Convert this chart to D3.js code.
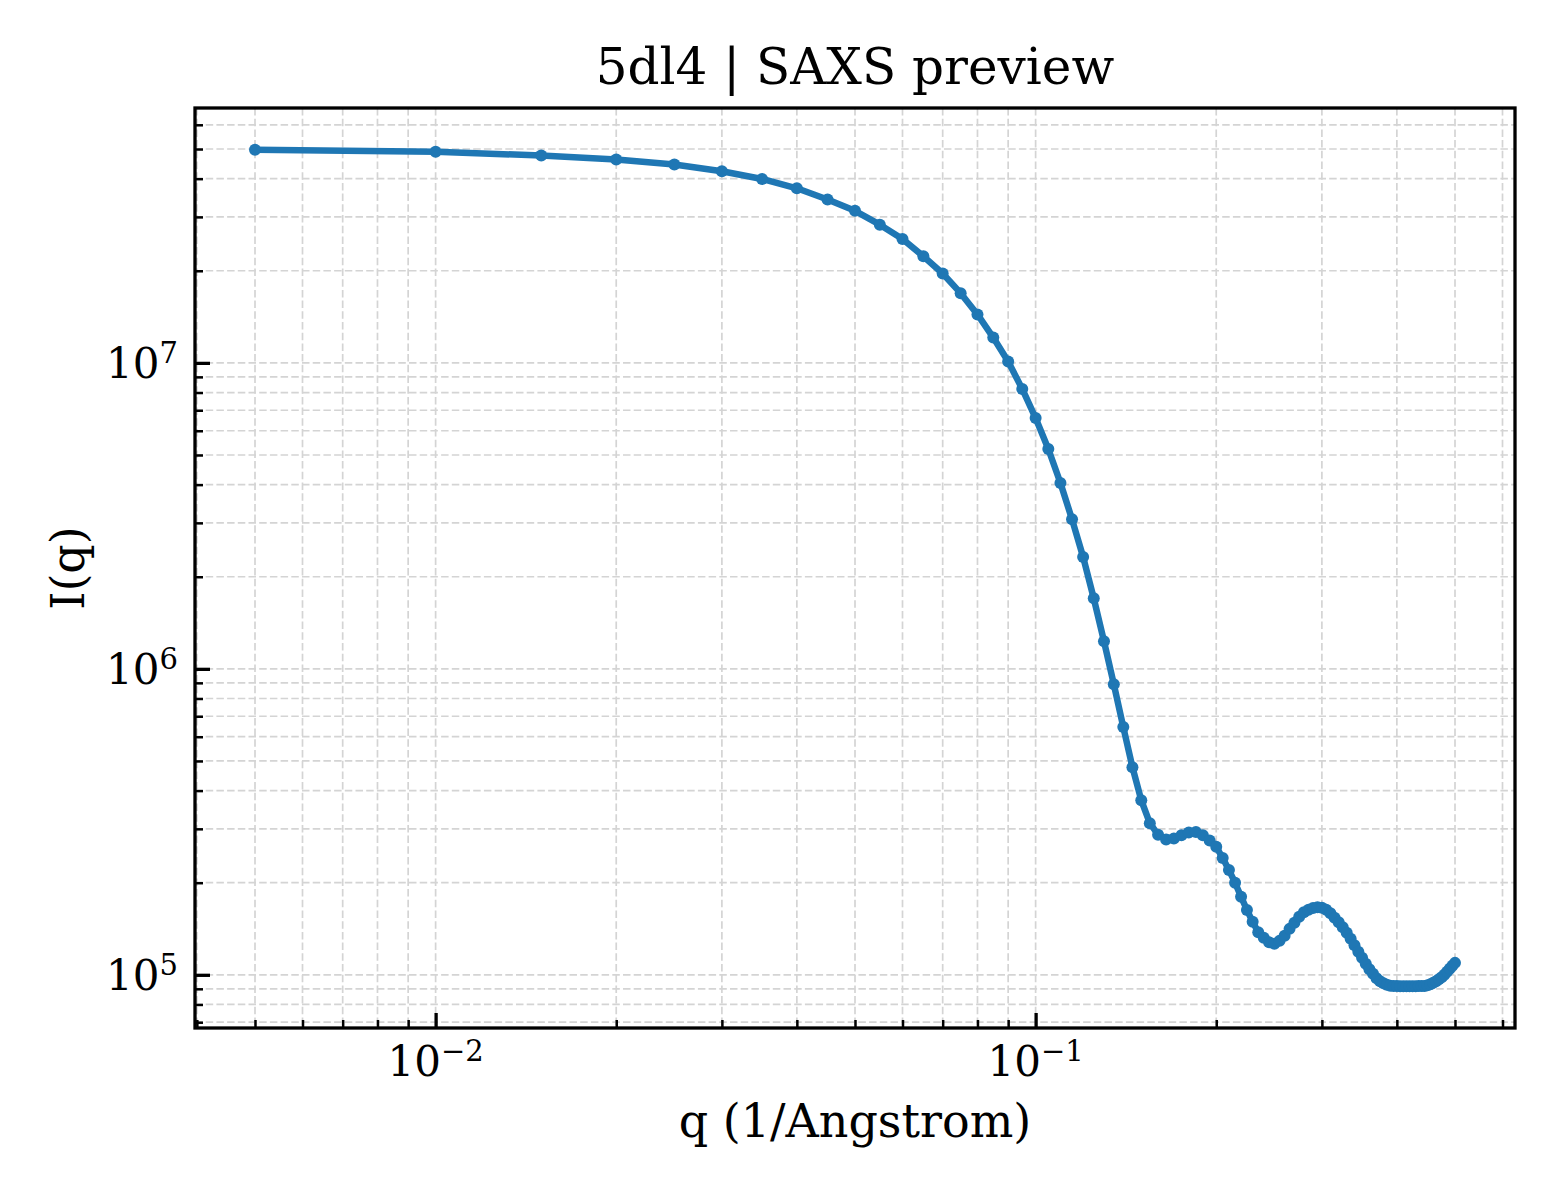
<!DOCTYPE html>
<html>
<head>
<meta charset="utf-8">
<script src="https://cdn.jsdelivr.net/npm/d3@7"></script>
<style>
  body { margin: 0; background: #fff; }
  text { font-family: "DejaVu Serif", serif; fill: #000; }
</style>
</head>
<body>
<svg id="chart" width="1560" height="1200"></svg>
<script>
// q (1/Angstrom) sample positions
const qValues = [
  0.005, 0.010, 0.015, 0.020, 0.025, 0.030, 0.035, 0.040, 0.045, 0.050,
  0.055, 0.060, 0.065, 0.070, 0.075, 0.080, 0.085, 0.090, 0.095, 0.100,
  0.105, 0.110, 0.115, 0.120, 0.125, 0.130, 0.135, 0.140, 0.145, 0.150,
  0.155, 0.160, 0.165, 0.170, 0.175, 0.180, 0.185, 0.190, 0.195, 0.200,
  0.205, 0.210, 0.215, 0.220, 0.225, 0.230, 0.235, 0.240, 0.245, 0.250,
  0.255, 0.260, 0.265, 0.270, 0.275, 0.280, 0.285, 0.290, 0.295, 0.300,
  0.305, 0.310, 0.315, 0.320, 0.325, 0.330, 0.335, 0.340, 0.345, 0.350,
  0.355, 0.360, 0.365, 0.370, 0.375, 0.380, 0.385, 0.390, 0.395, 0.400,
  0.405, 0.410, 0.415, 0.420, 0.425, 0.430, 0.435, 0.440, 0.445, 0.450,
  0.455, 0.460, 0.465, 0.470, 0.475, 0.480, 0.485, 0.490, 0.495, 0.500
];

// I(q)
const intensity = [
  4.97e7, 4.90e7, 4.76e7, 4.62e7, 4.45e7, 4.23e7, 3.99e7, 3.72e7, 3.42e7, 3.14e7,
  2.83e7, 2.54e7, 2.23e7, 1.96e7, 1.69e7, 1.44e7, 1.21e7, 1.01e7, 8.22e6, 6.60e6,
  5.23e6, 4.05e6, 3.08e6, 2.32e6, 1.70e6, 1.23e6, 8.91e5, 6.45e5, 4.77e5, 3.72e5,
  3.13e5, 2.87e5, 2.77e5, 2.79e5, 2.86e5, 2.92e5, 2.93e5, 2.86e5, 2.75e5, 2.62e5,
  2.41e5, 2.20e5, 2.00e5, 1.80e5, 1.63e5, 1.49e5, 1.377e5, 1.321e5, 1.277e5, 1.263e5,
  1.291e5, 1.341e5, 1.413e5, 1.479e5, 1.547e5, 1.600e5, 1.631e5, 1.652e5, 1.662e5, 1.656e5,
  1.631e5, 1.589e5, 1.536e5, 1.484e5, 1.430e5, 1.372e5, 1.311e5, 1.249e5, 1.189e5, 1.137e5,
  1.086e5, 1.042e5, 1.008e5, 9.74e4, 9.52e4, 9.38e4, 9.28e4, 9.21e4, 9.20e4, 9.19e4,
  9.18e4, 9.18e4, 9.18e4, 9.18e4, 9.18e4, 9.18e4, 9.19e4, 9.19e4, 9.20e4, 9.24e4,
  9.31e4, 9.42e4, 9.52e4, 9.67e4, 9.81e4, 1.000e5, 1.023e5, 1.046e5, 1.070e5, 1.094e5
];

const xMajorExps = [-2, -1];
const yMajorExps = [5, 6, 7];
const titleText = "5dl4 | SAXS preview";
const xLabelText = "q (1/Angstrom)";
const yLabelText = "I(q)";

const width = 1560, height = 1200;
const margin = {top: 108, right: 45, bottom: 172, left: 195};
const iw = width - margin.left - margin.right;
const ih = height - margin.top - margin.bottom;

const blue = "#1f77b4";

// matplotlib-like 5% padding in log space
let padLog = (lo, hi) => {
    let a = Math.log10(lo), b = Math.log10(hi), p = (b - a) * 0.05;
    return [Math.pow(10, a - p), Math.pow(10, b + p)];
};

let x = d3.scaleLog()
    .domain(padLog(d3.min(qValues), d3.max(qValues)))
    .range([0, iw]);

let y = d3.scaleLog()
    .domain(padLog(d3.min(intensity), d3.max(intensity)))
    .range([ih, 0]);

let isMajor = v => Math.abs(Math.log10(v) - Math.round(Math.log10(v))) < 1e-9;

let xAll = x.ticks();
let yAll = y.ticks();
let xMinor = xAll.filter(v => !isMajor(v));
let yMinor = yAll.filter(v => !isMajor(v));
let xMajor = xMajorExps.map(e => Math.pow(10, e));
let yMajor = yMajorExps.map(e => Math.pow(10, e));

let svg = d3.select("#chart");

let g = svg.append("g")
    .attr("transform", "translate(" + margin.left + "," + margin.top + ")");

// grid (major + minor), dashed
let grid = g.append("g")
    .attr("stroke", "#d4d4d4")
    .attr("stroke-width", 1.7)
    .attr("stroke-dasharray", "7.5,3.2");

grid.selectAll(".vgrid")
    .data(xAll)
    .join("line")
    .attr("x1", d => x(d))
    .attr("x2", d => x(d))
    .attr("y1", 0)
    .attr("y2", ih);

grid.selectAll(".hgrid")
    .data(yAll)
    .join("line")
    .attr("x1", 0)
    .attr("x2", iw)
    .attr("y1", d => y(d))
    .attr("y2", d => y(d));

// data line + markers
let pts = qValues.map((q, i) => ({q: q, v: intensity[i]}));

g.append("path")
    .datum(pts)
    .attr("fill", "none")
    .attr("stroke", blue)
    .attr("stroke-width", 6.5)
    .attr("stroke-linejoin", "round")
    .attr("stroke-linecap", "round")
    .attr("d", d3.line().x(d => x(d.q)).y(d => y(d.v)));

g.selectAll(".pt")
    .data(pts)
    .join("circle")
    .attr("cx", d => x(d.q))
    .attr("cy", d => y(d.v))
    .attr("r", 6)
    .attr("fill", blue);

// ticks pointing inward
let styleTicks = (sel, w) => {
    sel.select(".domain").remove();
    sel.selectAll(".tick line").attr("stroke", "#000").attr("stroke-width", w);
    sel.selectAll(".tick text").remove();
};

g.append("g")
    .attr("transform", "translate(0," + ih + ")")
    .call(d3.axisBottom(x).tickValues(xMinor).tickSize(-8).tickSizeOuter(0).tickFormat(""))
    .call(s => styleTicks(s, 2.5));

g.append("g")
    .attr("transform", "translate(0," + ih + ")")
    .call(d3.axisBottom(x).tickValues(xMajor).tickSize(-15).tickSizeOuter(0).tickFormat(""))
    .call(s => styleTicks(s, 3.3));

g.append("g")
    .call(d3.axisLeft(y).tickValues(yMinor).tickSize(-8).tickSizeOuter(0).tickFormat(""))
    .call(s => styleTicks(s, 2.5));

g.append("g")
    .call(d3.axisLeft(y).tickValues(yMajor).tickSize(-15).tickSizeOuter(0).tickFormat(""))
    .call(s => styleTicks(s, 3.3));

// power-of-ten labels
let powLabel = (parent, exp) => {
    let t = parent.append("text").attr("font-size", 42);
    t.append("tspan").text("10");
    t.append("tspan")
        .attr("dy", -15)
        .attr("font-size", 29)
        .text(exp < 0 ? "\u2212" + (-exp) : String(exp));
    return t;
};

xMajorExps.forEach(e => {
    powLabel(g, e)
        .attr("x", x(Math.pow(10, e)))
        .attr("y", ih + 48)
        .attr("text-anchor", "middle");
});

yMajorExps.forEach(e => {
    powLabel(g, e)
        .attr("x", -17)
        .attr("y", y(Math.pow(10, e)) + 15.5)
        .attr("text-anchor", "end");
});

// frame
g.append("rect")
    .attr("width", iw)
    .attr("height", ih)
    .attr("fill", "none")
    .attr("stroke", "#000")
    .attr("stroke-width", 3.3);

// titles
svg.append("text")
    .attr("x", margin.left + iw / 2)
    .attr("y", 84)
    .attr("text-anchor", "middle")
    .attr("font-size", 50)
    .text(titleText);

svg.append("text")
    .attr("x", margin.left + iw / 2)
    .attr("y", 1137)
    .attr("text-anchor", "middle")
    .attr("font-size", 46)
    .text(xLabelText);

svg.append("text")
    .attr("transform", "translate(84," + (margin.top + ih / 2) + ") rotate(-90)")
    .attr("text-anchor", "middle")
    .attr("font-size", 46)
    .text(yLabelText);
</script>
</body>
</html>
